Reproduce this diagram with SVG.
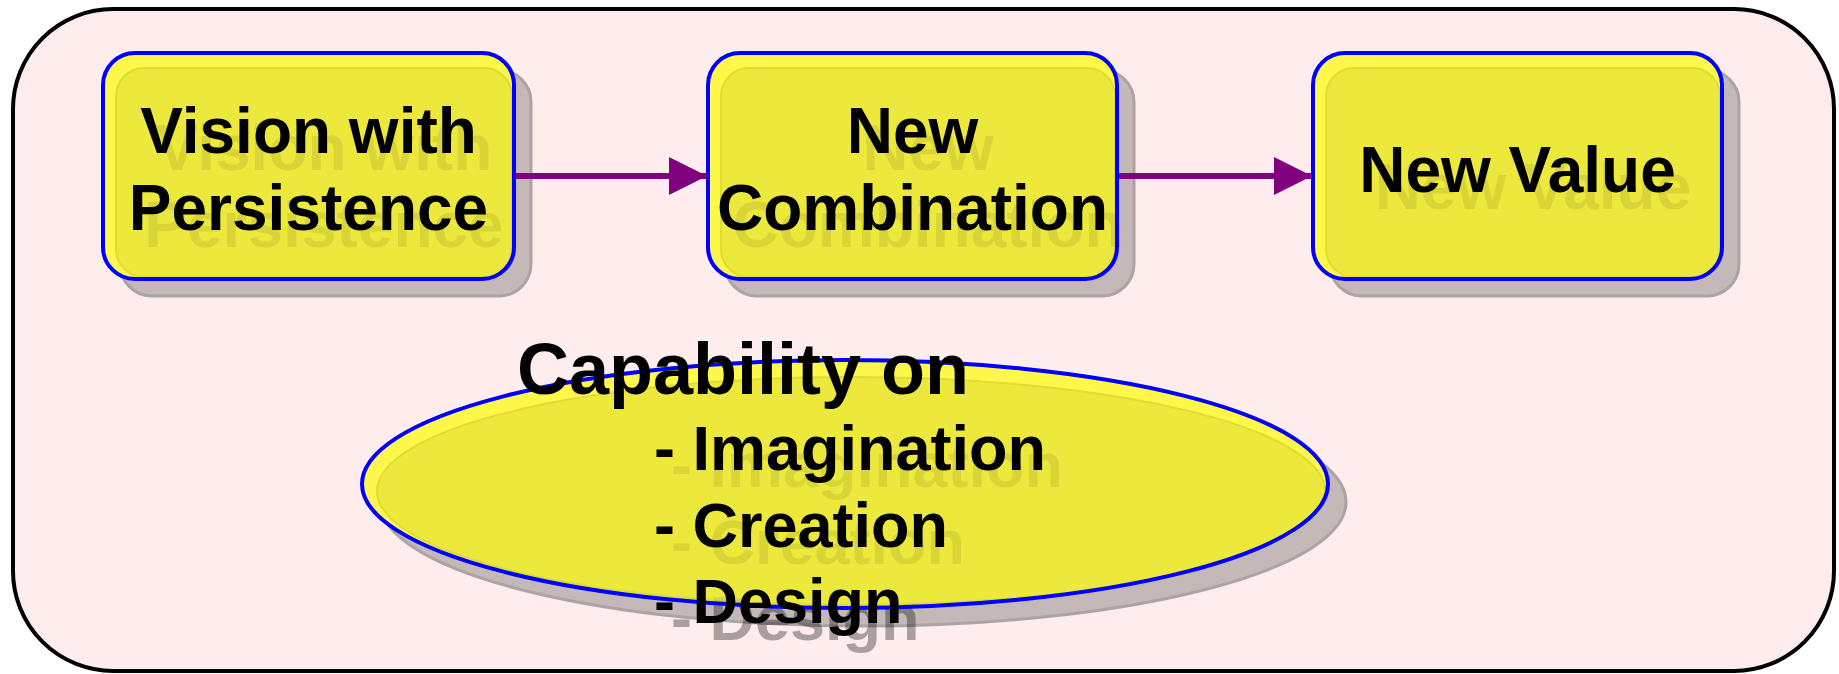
<svg xmlns="http://www.w3.org/2000/svg" width="1839" height="674" viewBox="0 0 1839 674">
<style>
.shadow{fill:#C4B8B8;stroke:#ACA4A4;stroke-width:3}
.band{fill:#FFF74A}
.inner{fill:#ECE83C;stroke:#E0DC36;stroke-width:2}
.outline{fill:none;stroke:#0000FF;stroke-width:4}
.t{font-family:"Liberation Sans",Arial,sans-serif;font-weight:bold;fill:#000}
.g{font-family:"Liberation Sans",Arial,sans-serif;font-weight:bold;fill:#000;fill-opacity:0.08}
.gg{font-family:"Liberation Sans",Arial,sans-serif;font-weight:bold;fill:#000;fill-opacity:0.27}
.box{font-size:64px;text-anchor:middle}
.conn{stroke:#800080;stroke-width:6;fill:none}
</style>
<defs>
<marker id="ah" markerUnits="userSpaceOnUse" markerWidth="38" markerHeight="38" refX="38" refY="19" orient="auto">
<path d="M0,0 L38,19 L0,38 z" fill="#800080"/>
</marker>
</defs>
<rect id="frame" x="13" y="9" width="1821" height="662" rx="100" ry="100" fill="#FFECEC" stroke="#000" stroke-width="4"/>
<g id="node-vision">
<rect class="shadow" x="120" y="70" width="411" height="226" rx="32"/>
<rect class="band" x="103" y="53" width="411" height="226" rx="32"/>
<rect class="inner" x="116" y="68" width="396" height="209" rx="28"/>
<rect class="outline" x="103" y="53" width="411" height="226" rx="32"/>
<text class="g box" x="324" y="170">Vision with</text>
<text class="g box" x="324" y="247">Persistence</text>
<text class="t box" x="308.5" y="153">Vision with</text>
<text class="t box" x="308.5" y="230">Persistence</text>
</g>
<g id="node-combination">
<rect class="shadow" x="725" y="70" width="409" height="226" rx="32"/>
<rect class="band" x="708" y="53" width="409" height="226" rx="32"/>
<rect class="inner" x="721" y="68" width="394" height="209" rx="28"/>
<rect class="outline" x="708" y="53" width="409" height="226" rx="32"/>
<text class="g box" x="928" y="170">New</text>
<text class="g box" x="928" y="247">Combination</text>
<text class="t box" x="912.5" y="153">New</text>
<text class="t box" x="912.5" y="230">Combination</text>
</g>
<g id="node-value">
<rect class="shadow" x="1330" y="70" width="409" height="226" rx="32"/>
<rect class="band" x="1313" y="53" width="409" height="226" rx="32"/>
<rect class="inner" x="1326" y="68" width="394" height="209" rx="28"/>
<rect class="outline" x="1313" y="53" width="409" height="226" rx="32"/>
<text class="g box" x="1533" y="209">New Value</text>
<text class="t box" x="1517.5" y="192">New Value</text>
</g>
<g id="node-capability">
<ellipse class="shadow" cx="863" cy="502" rx="483" ry="124"/>
<text class="gg" font-size="63" x="671" y="640">- Design</text>
<ellipse class="band" cx="845" cy="484" rx="483" ry="124"/>
<ellipse class="inner" cx="851" cy="491" rx="474" ry="114"/>
<ellipse class="outline" cx="845" cy="484" rx="483" ry="124"/>
<text class="g" font-size="63" x="671" y="487">- Imagination</text>
<text class="g" font-size="63" x="671" y="564">- Creation</text>
<text class="g" font-size="63" x="671" y="640">- Design</text>
<text class="t" font-size="72" x="517" y="394">Capability on</text>
<text class="t" font-size="63" x="654" y="470">- Imagination</text>
<text class="t" font-size="63" x="654" y="547">- Creation</text>
<text class="t" font-size="63" x="654" y="623">- Design</text>
</g>
<g id="connectors">
<line class="conn" x1="516" y1="176" x2="707" y2="176" marker-end="url(#ah)"/>
<line class="conn" x1="1119" y1="176" x2="1312" y2="176" marker-end="url(#ah)"/>
</g>
</svg>
